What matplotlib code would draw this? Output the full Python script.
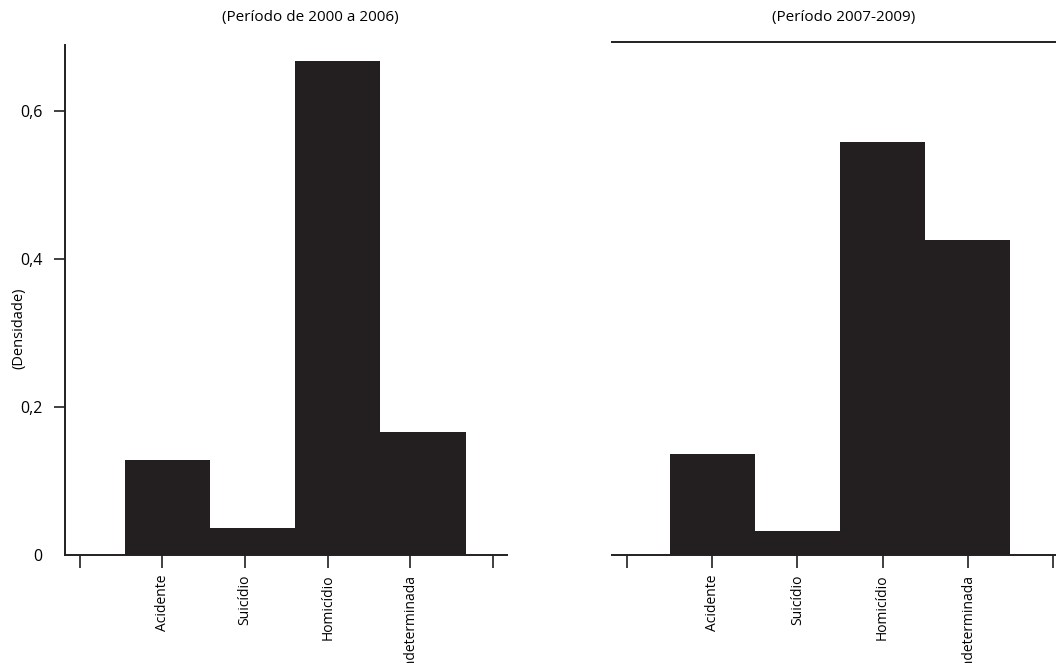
import matplotlib
matplotlib.use("Agg")
import matplotlib.pyplot as plt

# Data (densidade por tipo de morte)
categorias = ["Acidente", "Suicídio", "Homicídio", "Indeterminada"]
dens_2000_2006 = [0.128, 0.036, 0.668, 0.166]
dens_2007_2009 = [0.136, 0.032, 0.558, 0.426]
# histogram bin edges (category scale 0..5)
bins_2000_2006 = [0.545, 1.576, 2.607, 3.638, 4.669, 5.700]
bins_2007_2009 = [0.5, 1.5, 2.5, 3.5, 4.5]
xticks = [0, 1, 2, 3, 4, 5]
yticks = [0, 0.2, 0.4, 0.6]
ytick_labels = ["0", "0,2", "0,4", "0,6"]

plt.rcParams["font.family"] = ["Open Sans", "DejaVu Sans"]
bar_color = "#231f20"
line_color = "#231f20"

fig = plt.figure(figsize=(10.56, 6.63), dpi=100)
W, H = 1056, 663


def px_axes(x0, y_top, x1, y_bot):
    # Create axes from pixel box
    return fig.add_axes([x0 / W, 1 - y_bot / H, (x1 - x0) / W, (y_bot - y_top) / H])


def draw_bars(ax, bins, values):
    widths = [bins[i + 1] - bins[i] for i in range(len(values))]
    ax.bar(bins[:len(values)], values, width=widths, align="edge",
           color=bar_color, edgecolor="none", linewidth=0)


def style_xaxis(ax):
    ax.set_xticks(xticks)
    ax.set_xticklabels([""] + categorias + [""], rotation=90, va="top", fontsize=10)
    ax.tick_params(axis="x", direction="out", length=9, width=1.2, color=line_color, pad=5)
    ax.spines["bottom"].set_color(line_color)
    ax.spines["bottom"].set_linewidth(1.4)
    ax.spines["right"].set_visible(False)


# Left panel (2000-2006)
ax1 = px_axes(65, 45, 507, 555)
draw_bars(ax1, bins_2000_2006, dens_2000_2006)
ax1.set_xlim(-0.18, 5.17)
ax1.set_ylim(0, 0.689)
style_xaxis(ax1)
ax1.spines["top"].set_visible(False)
ax1.spines["left"].set_color(line_color)
ax1.spines["left"].set_linewidth(1.4)
ax1.set_yticks(yticks)
ax1.set_yticklabels(ytick_labels, fontsize=11.5)
ax1.tick_params(axis="y", direction="out", length=8, width=1.2, color=line_color, pad=8)
ax1.yaxis.get_major_ticks()[0].tick1line.set_visible(False)

# Right panel (2007-2009)
ax2 = px_axes(612, 42, 1056, 555)
draw_bars(ax2, bins_2007_2009 + [5.5], dens_2007_2009)
ax2.set_xlim(-0.176, 5.035)
ax2.set_ylim(0, 0.693)
style_xaxis(ax2)
ax2.spines["left"].set_visible(False)
ax2.spines["top"].set_color(line_color)
ax2.spines["top"].set_linewidth(1.4)
ax2.set_yticks([])

# Titles and y label
fig.text(310 / W, 1 - 17 / H, "(Período de 2000 a 2006)", ha="center", va="center", fontsize=11)
fig.text(844 / W, 1 - 17 / H, "(Período 2007-2009)", ha="center", va="center", fontsize=11)
fig.text(19 / W, 1 - 328 / H, "(Densidade)", rotation=90, ha="center", va="center", fontsize=10.5)

fig.savefig("out.png", dpi=100)
